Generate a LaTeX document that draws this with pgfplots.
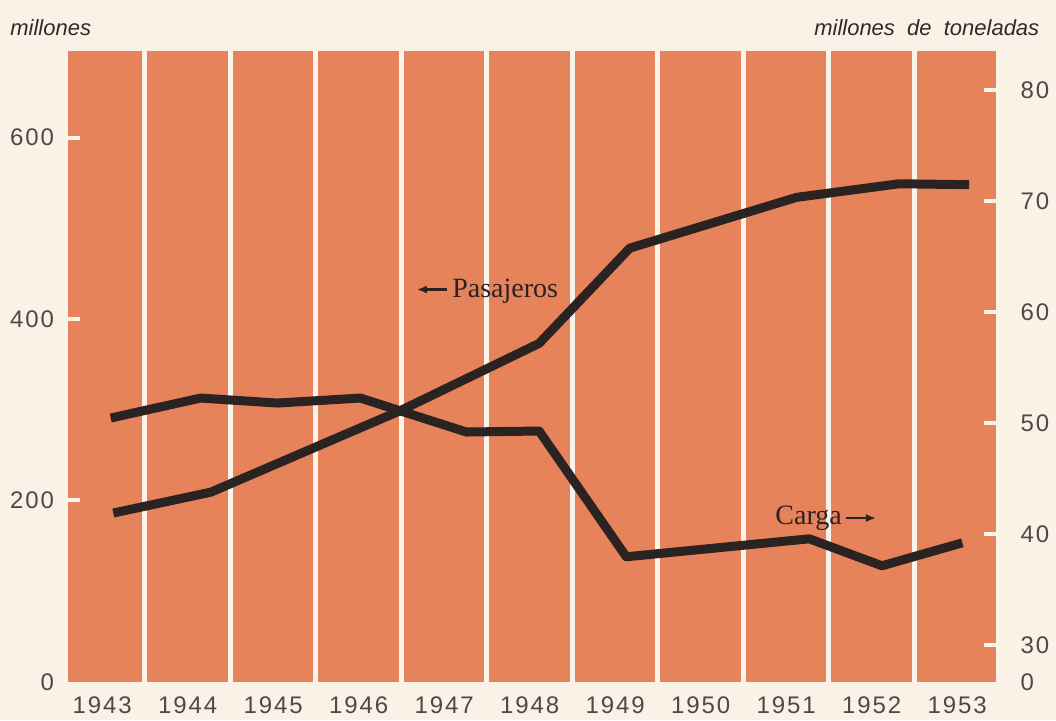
\documentclass[border=0pt]{standalone}
\usepackage{fontspec}
\setmainfont{Liberation Sans}
\newfontfamily\ticksfont[LetterSpace=8]{Liberation Sans}
\newfontfamily\serifl{Liberation Serif}
\usepackage{pgfplots}
\pgfplotsset{compat=1.18}
\usetikzlibrary{arrows.meta}
\definecolor{bg}{HTML}{FAF2E6}
\definecolor{orangec}{HTML}{E7835A}
\definecolor{stripe}{HTML}{FBF4EA}
\definecolor{linec}{HTML}{2B2222}
\definecolor{txt}{HTML}{4E4848}
\definecolor{ttl}{HTML}{302A2A}

\begin{document}
\begin{tikzpicture}
\fill[bg] (-34pt,-19pt) rectangle (494pt,341pt);
\begin{axis}[
  at={(0,0)}, anchor=south west, scale only axis,
  width=464pt, height=315.5pt,
  xmin=1942.6, xmax=1953.45, ymin=0, ymax=695.4,
  axis background/.style={fill=orangec},
  axis x line*=bottom, axis y line*=left,
  axis line style={draw=none},
  xtick={1943,1944,...,1953},
  x tick style={draw=none},
  ytick={200,400,600},
  y tick style={draw=stripe, line width=2pt},
  tick align=inside, major tick length=6pt,
  extra y ticks={0}, extra y tick style={major tick length=0pt},
  extra x ticks={1943.5,1944.5,...,1952.5}, extra x tick labels={},
  extra x tick style={xmajorgrids=true, major tick length=0pt,
     major grid style={draw=stripe, line width=2.5pt}},
  /pgf/number format/assume math mode=true,
  /pgf/number format/1000 sep={},
  tick label style={font=\ticksfont\fontsize{12}{14}\selectfont, text=txt},
  yticklabel style={xshift=-3.5pt},
  xticklabel style={yshift=-4.2pt},
]
\addplot[linec, line width=4.5pt, line join=round] coordinates {
 (1943.13,186) (1944.27,209) (1946.49,299) (1948.11,373) (1949.17,478)
 (1951.12,534) (1952.32,549) (1953.14,548)
};
\node[anchor=base west, inner sep=0pt, text=linec, font=\serifl\fontsize{14}{16}\selectfont]
  at (axis cs:1947.09,423.6) {Pasajeros};
\draw[linec, line width=1.1pt, -{Latex[length=5pt,width=4pt]}]
  (axis cs:1947.03,432.4) -- (axis cs:1946.68,432.4);
\node[anchor=base west, inner sep=0pt, text=linec, font=\serifl\fontsize{14}{16}\selectfont]
  at (axis cs:1950.87,173.9) {Carga};
\draw[linec, line width=1.1pt, -{Latex[length=5pt,width=4pt]}]
  (axis cs:1951.70,180.5) -- (axis cs:1952.05,180.5);
\end{axis}
\begin{axis}[
  at={(0,0)}, anchor=south west, scale only axis,
  width=464pt, height=315.5pt,
  xmin=1942.6, xmax=1953.45, ymin=26.67, ymax=83.5,
  axis y line*=right, axis x line=none,
  axis line style={draw=none},
  ytick={30,40,...,80},
  y tick style={draw=stripe, line width=2pt},
  tick align=inside, major tick length=6pt,
  extra y ticks={26.67}, extra y tick labels={0},
  extra y tick style={major tick length=0pt},
  /pgf/number format/assume math mode=true,
  tick label style={font=\ticksfont\fontsize{12}{14}\selectfont, text=txt},
  yticklabel style={xshift=9pt},
]
\addplot[linec, line width=4.5pt, line join=round] coordinates {
 (1943.10,50.43) (1944.15,52.23) (1945.05,51.78) (1946.02,52.23) (1947.26,49.17)
 (1948.11,49.26) (1949.13,37.93) (1951.27,39.55) (1952.12,37.12) (1953.06,39.19)
};
\end{axis}
\node[anchor=west, inner sep=0pt, text=ttl, font=\itshape\fontsize{11}{13}\selectfont]
  at (-29pt,327pt) {millones};
\node[anchor=east, inner sep=0pt, text=ttl, font=\itshape\fontsize{11}{13}\selectfont]
  at (486pt,327pt) {millones\ \ de\ \ toneladas};
\end{tikzpicture}
\end{document}
